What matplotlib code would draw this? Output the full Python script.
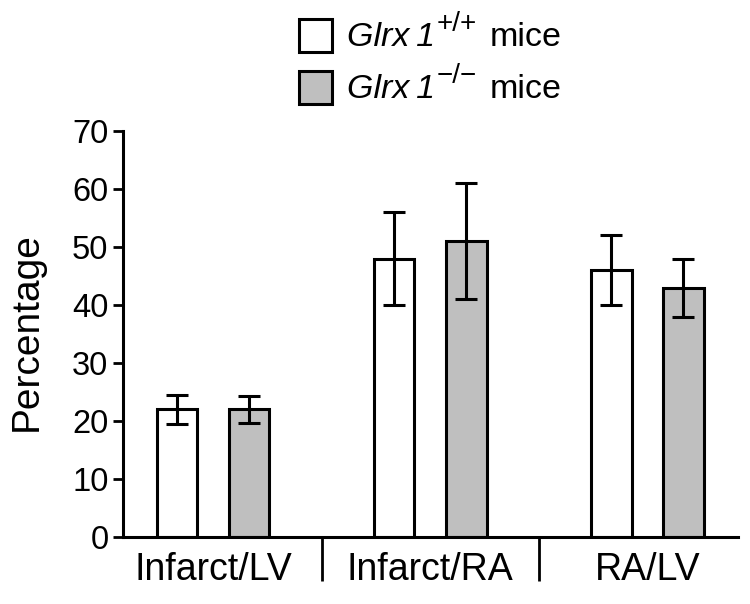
import matplotlib
matplotlib.use("Agg")
import matplotlib.pyplot as plt
from matplotlib.patches import Rectangle
import numpy as np

categories = ["Infarct/LV", "Infarct/RA", "RA/LV"]
wt_values = [22, 48, 46]
wt_errors = [2.5, 8, 6]
ko_values = [22, 51, 43]
ko_errors = [2.3, 10, 5]
yticks = [0, 10, 20, 30, 40, 50, 60, 70]
legend_gene = "Glrx\u20091"
legend_sups = ["+/+", "\u2212/\u2212"]
legend_suffix = "mice"

plt.rcParams['font.family'] = ['Liberation Sans', 'DejaVu Sans']

fig = plt.figure(figsize=(7.5, 6.04), dpi=100)
ax = fig.add_axes([123/750, 1-537/604, 615/750, 406/604])

x = np.arange(len(categories))
off = 0.166
w = 0.186
lw = 2.2
grey = '#bfbfbf'
ax.bar(x - off, wt_values, w, color='white', edgecolor='black', linewidth=lw, zorder=2)
ax.bar(x + off, ko_values, w, color=grey, edgecolor='black', linewidth=lw, zorder=2)
ax.errorbar(x - off, wt_values, yerr=wt_errors, fmt='none', ecolor='black',
            elinewidth=2.2, capsize=8, capthick=2.2, zorder=3)
ax.errorbar(x + off, ko_values, yerr=ko_errors, fmt='none', ecolor='black',
            elinewidth=2.2, capsize=8, capthick=2.2, zorder=3)

ax.set_xlim(-0.415, 2.417)
ax.set_ylim(0, 70)
ax.set_yticks(yticks)
ax.set_yticklabels([str(t) for t in yticks], fontsize=23.5)
ax.tick_params(axis='y', length=7, width=2, pad=3.5)

ax.set_xticks(x)
ax.set_xticklabels(categories, fontsize=27)
ax.tick_params(axis='x', which='major', length=0, pad=11)
ax.set_xticks([0.5, 1.5], minor=True)
ax.tick_params(axis='x', which='minor', length=32, width=2)

for s in ['top', 'right']:
    ax.spines[s].set_visible(False)
for s in ['left', 'bottom']:
    ax.spines[s].set_linewidth(2.2)

ax.set_ylabel("Percentage", fontsize=28)
ax.yaxis.set_label_coords(-0.128, 0.506)

# legend
fills = ['white', grey]
box_tops = [18, 70]
fig.canvas.draw()
renderer = fig.canvas.get_renderer()
for i, (sup, fc) in enumerate(zip(legend_sups, fills)):
    top = box_tops[i]
    fig.patches.append(Rectangle((299/750, 1-(top+34)/604), 33/750, 33/604,
                                 transform=fig.transFigure, facecolor=fc,
                                 edgecolor='black', linewidth=2.2))
    base_y = 1 - (top + 28) / 604
    t1 = fig.text(347/750, base_y, legend_gene, fontsize=24.5, style='italic',
                  va='baseline', ha='left')
    bb = t1.get_window_extent(renderer)
    t2 = fig.text((bb.x1 + 2)/750, base_y + 15/604, sup, fontsize=20,
                  va='baseline', ha='left')
    bb2 = t2.get_window_extent(renderer)
    fig.text((bb2.x1 + 12)/750, base_y, legend_suffix, fontsize=24.5,
             va='baseline', ha='left')

fig.savefig("out.png", dpi=100)
